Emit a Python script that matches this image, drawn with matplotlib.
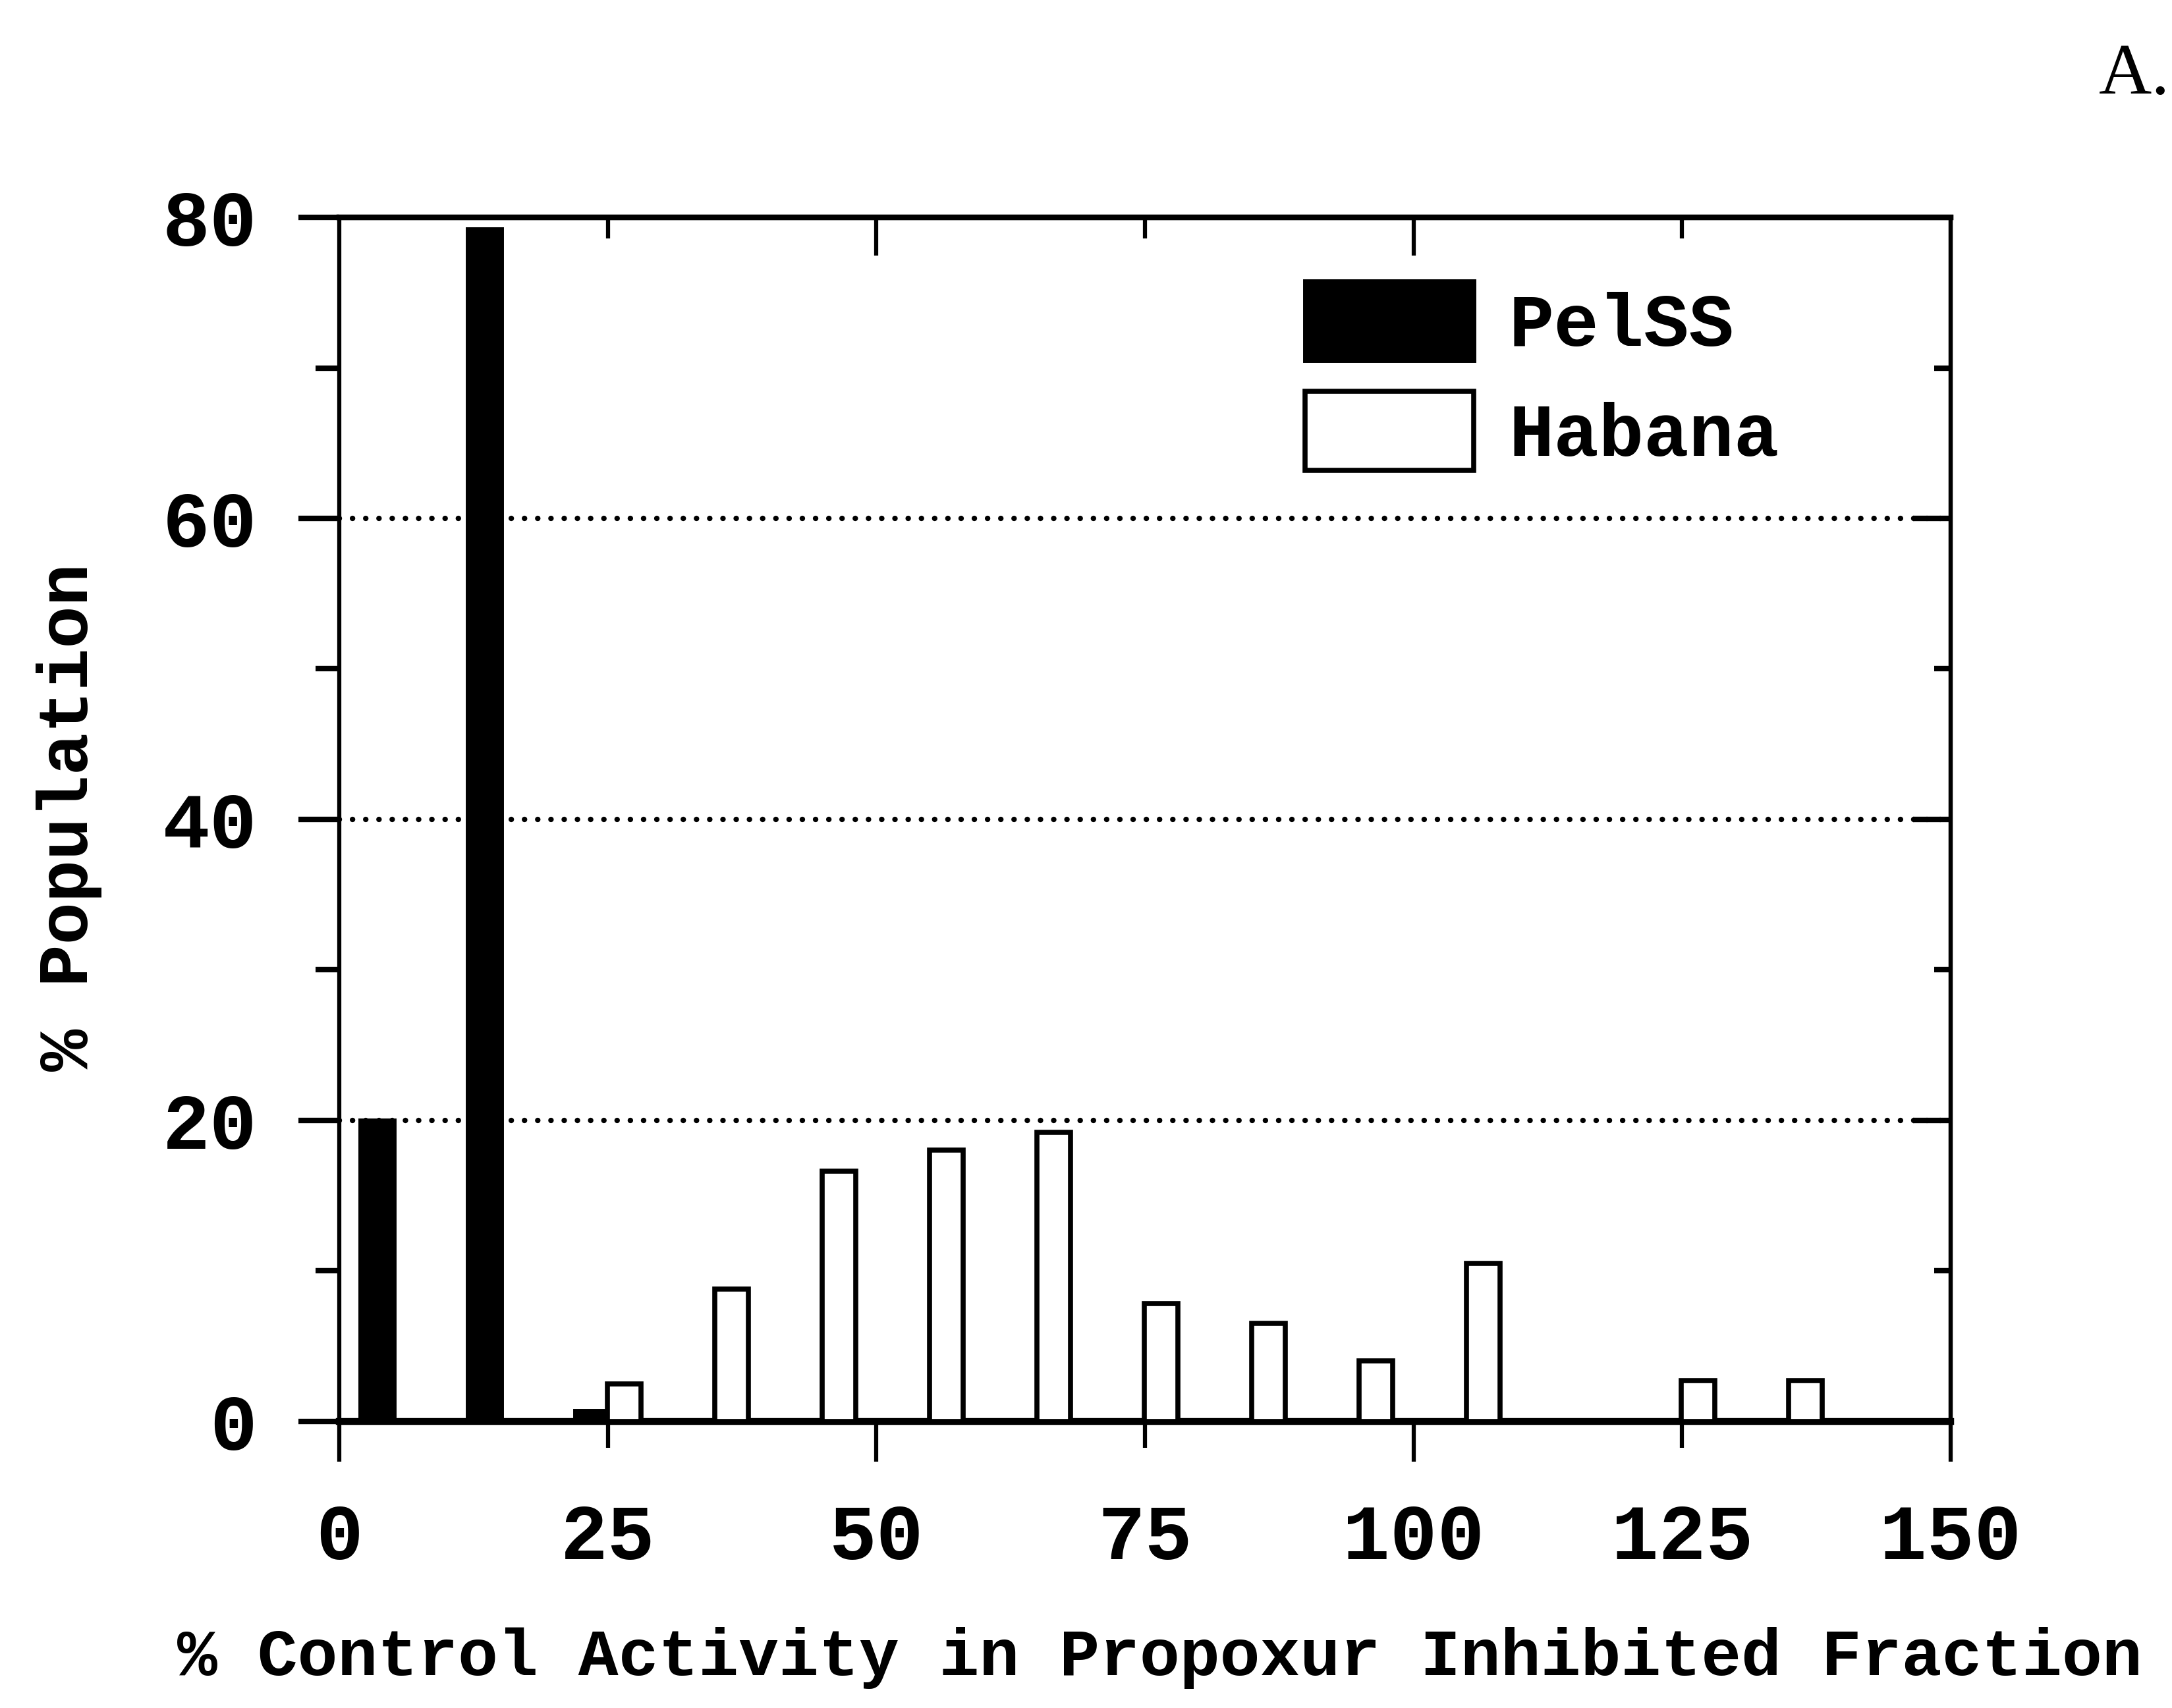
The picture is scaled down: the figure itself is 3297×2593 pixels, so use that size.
import matplotlib
matplotlib.use("Agg")
import matplotlib.pyplot as plt
from matplotlib.ticker import FixedLocator, FixedFormatter

# ---- data ----
pelss_x = [3.5, 13.5, 23.5]
pelss_y = [20.0, 79.2, 0.7]
habana_x = [26.5, 36.5, 46.5, 56.5, 66.5, 76.5, 86.5, 96.5, 106.5, 126.5, 136.5]
habana_y = [2.5, 8.8, 16.6, 18.0, 19.2, 7.8, 6.5, 4.0, 10.5, 2.7, 2.7]
x_major = [0, 50, 100, 150]
x_minor = [25, 75, 125]
y_major = [0, 20, 40, 60, 80]
y_minor = [10, 30, 50, 70]
grid_levels = [20, 40, 60]
series_names = ["PelSS", "Habana"]

FONT = "Liberation Mono"
plt.rcParams['font.family'] = [FONT, 'DejaVu Sans']
plt.rcParams['font.weight'] = 'bold'

fig = plt.figure(figsize=(32.97, 25.93), dpi=100)
ax = fig.add_axes([0.1563, 0.1679, 0.7417, 0.7048])

bw = 3.1
ax.bar(pelss_x, pelss_y, width=bw, color='black', edgecolor='black', linewidth=5,
       label=series_names[0], zorder=3)
ax.bar(habana_x, habana_y, width=bw, facecolor='white', edgecolor='black', linewidth=5.5,
       label=series_names[1], zorder=3)

ax.set_xlim(0, 150)
ax.set_ylim(0, 80)

ax.spines['left'].set_linewidth(4.5)
ax.spines['right'].set_linewidth(4.5)
ax.spines['top'].set_linewidth(6)
ax.spines['bottom'].set_linewidth(7.5)

# dotted gridlines
for yv in grid_levels:
    ax.axhline(yv, color='black', linewidth=6, linestyle=(0, (0.01, 2.4)),
               dash_capstyle='round', zorder=1)

# bottom ticks
ax.xaxis.set_major_locator(FixedLocator(x_major))
ax.xaxis.set_minor_locator(FixedLocator(x_minor))
ax.xaxis.set_major_formatter(FixedFormatter([str(v) for v in x_major]))
ax.xaxis.set_minor_formatter(FixedFormatter([str(v) for v in x_minor]))
ax.tick_params(axis='x', which='major', direction='out', length=44, width=4.5, pad=45,
               labelsize=86, top=False)
ax.tick_params(axis='x', which='minor', direction='out', length=29, width=4.5, pad=60,
               labelsize=86, top=False)

# left ticks
ax.yaxis.set_major_locator(FixedLocator(y_major))
ax.yaxis.set_minor_locator(FixedLocator(y_minor))
ax.tick_params(axis='y', which='major', direction='out', length=45, width=6, pad=45,
               labelsize=86, right=False)
ax.tick_params(axis='y', which='minor', direction='out', length=26, width=6, right=False)

# top ticks (inward)
secx = ax.secondary_xaxis('top')
secx.xaxis.set_major_locator(FixedLocator([50, 100]))
secx.xaxis.set_minor_locator(FixedLocator(x_minor))
secx.tick_params(axis='x', which='major', direction='in', length=42, width=4.5, labeltop=False)
secx.tick_params(axis='x', which='minor', direction='in', length=23, width=4.5, labeltop=False)
secx.spines['top'].set_linewidth(6)

# right ticks (inward)
secy = ax.secondary_yaxis('right')
secy.yaxis.set_major_locator(FixedLocator(grid_levels))
secy.yaxis.set_minor_locator(FixedLocator(y_minor))
secy.tick_params(axis='y', which='major', direction='in', length=41, width=6, labelright=False)
secy.tick_params(axis='y', which='minor', direction='in', length=18, width=6, labelright=False)
secy.spines['right'].set_linewidth(4.5)

for lab in ax.get_xticklabels(which='both') + ax.get_yticklabels():
    lab.set_fontweight('bold')

# legend
fig.legend(loc='upper left', bbox_to_anchor=(0.6008, 0.8354), frameon=False,
           borderpad=0, borderaxespad=0, handlelength=2.25,
           handleheight=1.25, labelspacing=0.39, handletextpad=0.47,
           prop={'family': FONT, 'weight': 'bold', 'size': 82})

# axis labels
fig.text(837 / 1568, 1 - 1197 / 1233, "% Control Activity in Propoxur Inhibited Fraction",
         ha='center', va='center', fontsize=73, fontweight='bold')
fig.text(50 / 1568, 1 - 590 / 1233, "% Population", ha='center', va='center',
         rotation=90, fontsize=77, fontweight='bold')

# panel letter
fig.text(0.999, 1 - 142 / 2593, "A.", ha='right', va='baseline', fontsize=80,
         family='Liberation Serif', fontweight='normal')

fig.savefig("out.png", dpi=100, facecolor='white')
